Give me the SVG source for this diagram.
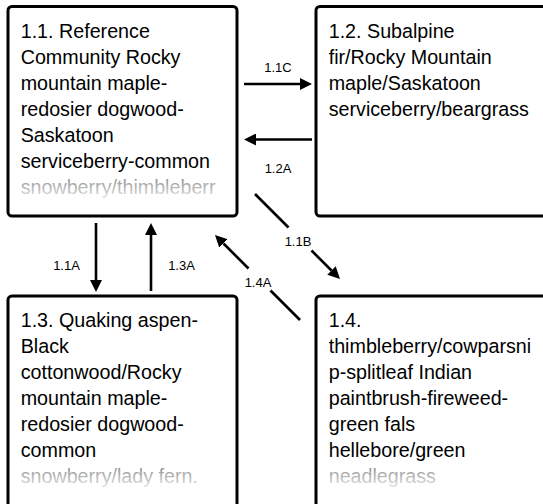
<svg xmlns="http://www.w3.org/2000/svg" width="543" height="504" viewBox="0 0 543 504">
<style>
.box{fill:#fff;stroke:#000;stroke-width:3}
.t{font-family:"Liberation Sans",Arial,sans-serif;font-size:19.7px;fill:#000}
.lbl{font-family:"Liberation Sans",Arial,sans-serif;font-size:13px;fill:#000;text-anchor:middle}
.c{stroke:#000;stroke-width:2.6;fill:none}
.ca{stroke:#000;stroke-width:2.6;fill:none;marker-end:url(#ah)}
</style>
<defs>
<marker id="ah" markerUnits="userSpaceOnUse" markerWidth="12" markerHeight="12" refX="0" refY="6" orient="auto" viewBox="0 0 12 12">
<path d="M0,0 L12,6 L0,12 z" fill="#000"/>
</marker>
<linearGradient id="fade" x1="0" y1="0" x2="0" y2="1">
<stop offset="0" stop-color="#fff" stop-opacity="0.55"/>
<stop offset="0.5" stop-color="#fff" stop-opacity="0.85"/>
<stop offset="1" stop-color="#fff" stop-opacity="1"/>
</linearGradient>
</defs>
<rect width="543" height="504" fill="#fff"/>
<g id="node-1-1">
<rect class="box" x="8" y="6.5" width="229" height="209.5" rx="4"/>
<text class="t"><tspan x="20.7" y="37.8">1.1. Reference</tspan><tspan x="20.7" y="63.8">Community Rocky</tspan><tspan x="20.7" y="89.8">mountain maple-</tspan><tspan x="20.7" y="115.8">redosier dogwood-</tspan><tspan x="20.7" y="141.8">Saskatoon</tspan><tspan x="20.7" y="167.8">serviceberry-common</tspan><tspan x="20.7" y="193.8">snowberry/thimbleberr</tspan></text>
<rect x="12" y="177.5" width="221" height="36" fill="url(#fade)"/>
</g>
<g id="node-1-2">
<rect class="box" x="316" y="6.5" width="250" height="209.5" rx="4"/>
<text class="t"><tspan x="328.7" y="37.8">1.2. Subalpine</tspan><tspan x="328.7" y="63.8">fir/Rocky Mountain</tspan><tspan x="328.7" y="89.8">maple/Saskatoon</tspan><tspan x="328.7" y="115.8">serviceberry/beargrass</tspan></text>
</g>
<g id="node-1-3">
<rect class="box" x="8" y="296" width="229" height="230" rx="4"/>
<text class="t"><tspan x="20.7" y="326.8">1.3. Quaking aspen-</tspan><tspan x="20.7" y="352.8">Black</tspan><tspan x="20.7" y="378.8">cottonwood/Rocky</tspan><tspan x="20.7" y="404.8">mountain maple-</tspan><tspan x="20.7" y="430.8">redosier dogwood-</tspan><tspan x="20.7" y="456.8">common</tspan><tspan x="20.7" y="482.8">snowberry/lady fern.</tspan></text>
<rect x="12" y="466.5" width="221" height="36" fill="url(#fade)"/>
</g>
<g id="node-1-4">
<rect class="box" x="316" y="296" width="250" height="230" rx="4"/>
<text class="t"><tspan x="328.7" y="326.8">1.4.</tspan><tspan x="328.7" y="352.8">thimbleberry/cowparsni</tspan><tspan x="328.7" y="378.8">p-splitleaf Indian</tspan><tspan x="328.7" y="404.8">paintbrush-fireweed-</tspan><tspan x="328.7" y="430.8">green fals</tspan><tspan x="328.7" y="456.8">hellebore/green</tspan><tspan x="328.7" y="482.8">neadlegrass</tspan></text>
<rect x="320" y="466.5" width="223" height="36" fill="url(#fade)"/>
</g>
<g id="connectors">
<line class="ca" x1="244" y1="84" x2="300" y2="84"/>
<text class="lbl" x="278" y="71.5">1.1C</text>
<line class="ca" x1="312" y1="139.5" x2="256" y2="139.5"/>
<text class="lbl" x="278" y="172.5">1.2A</text>
<line class="ca" x1="96" y1="223" x2="96" y2="280"/>
<text class="lbl" x="66.5" y="270">1.1A</text>
<line class="ca" x1="151" y1="291" x2="151" y2="235"/>
<text class="lbl" x="181.5" y="270">1.3A</text>
<line class="c" x1="255" y1="194" x2="288.5" y2="227.5"/>
<line class="ca" x1="311.5" y1="250.5" x2="331.5" y2="270.5"/>
<text class="lbl" x="298" y="246">1.1B</text>
<line class="c" x1="300" y1="320" x2="270.5" y2="290.5"/>
<line class="ca" x1="248.5" y1="268.5" x2="223.5" y2="243.5"/>
<text class="lbl" x="258" y="286.5">1.4A</text>
</g>
</svg>
